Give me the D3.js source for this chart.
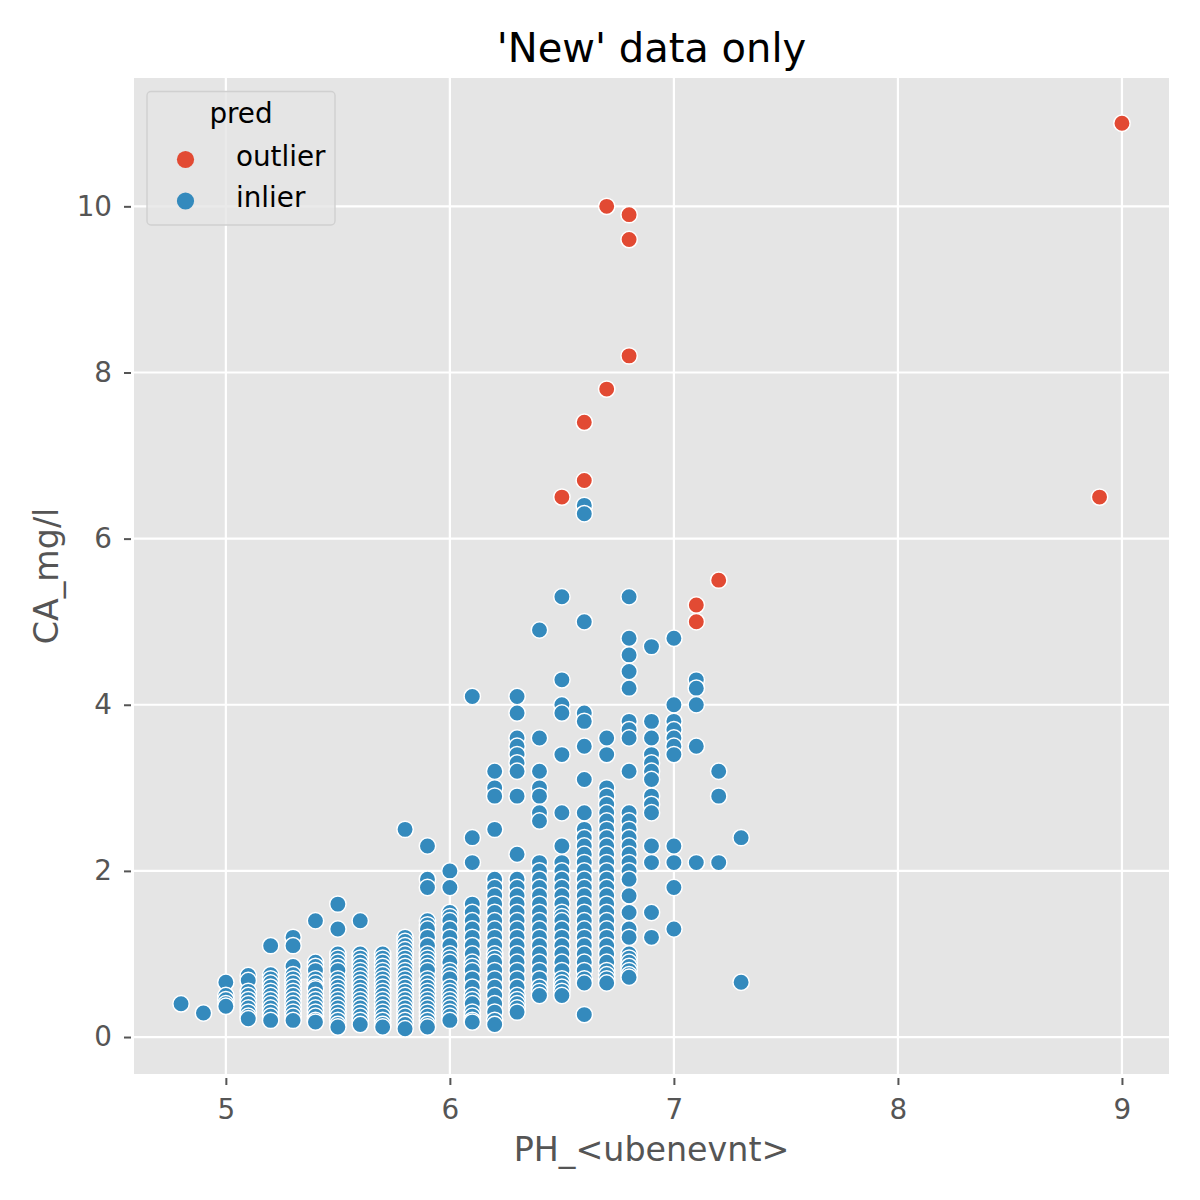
<!DOCTYPE html>
<html>
<head>
<meta charset="utf-8">
<script src="https://cdn.jsdelivr.net/npm/d3@7"></script>
<style>
  html, body { margin: 0; padding: 0; background: #ffffff; }
  svg { display: block; font-family: "DejaVu Sans", sans-serif; }
</style>
</head>
<body>
<svg id="chart" width="1200" height="1200"></svg>
<script>
// ---- data ----
const chartTitle = "'New' data only";
const xLabel = "PH_<ubenevnt>";
const yLabel = "CA_mg/l";
const legendTitle = "pred";
const seriesNames = ["outlier", "inlier"];
const seriesColors = ["#E24A33", "#348ABD"];
const xTicks = [5, 6, 7, 8, 9];
const yTicks = [0, 2, 4, 6, 8, 10];

const outlierPH = [9.0, 6.7, 6.8, 6.8, 6.8, 6.7, 6.6, 6.6, 6.5, 8.9, 7.2, 7.1, 7.1];
const outlierCA = [11.0, 10.0, 9.9, 9.6, 8.2, 7.8, 7.4, 6.7, 6.5, 6.5, 5.5, 5.2, 5.0];

const inlierPH = [4.8, 4.9, 5.0, 5.1, 5.2, 5.3, 5.4, 5.5, 5.6, 5.7, 5.8, 5.9, 6.0,
                  6.1, 6.2, 6.3, 6.4, 6.5, 6.6, 6.7, 6.8, 6.9, 7.0, 7.1, 7.2, 7.3];
const inlierCA = [
  [0.4],
  [0.29],
  [0.66, 0.5, 0.45, 0.4, 0.37],
  [0.74, 0.68, 0.55, 0.5, 0.45, 0.4, 0.35, 0.3, 0.25, 0.22],
  [1.1, 0.75, 0.7, 0.65, 0.6, 0.55, 0.5, 0.45, 0.4, 0.35, 0.3, 0.25, 0.2],
  [1.2, 1.1, 0.85, 0.75, 0.7, 0.65, 0.6, 0.55, 0.5, 0.45, 0.4, 0.35, 0.3, 0.25, 0.2],
  [1.4, 0.9, 0.85, 0.8, 0.7, 0.65, 0.6, 0.58, 0.5, 0.45, 0.4, 0.35, 0.3, 0.25, 0.2, 0.18],
  [1.6, 1.3, 1.0, 0.95, 0.9, 0.85, 0.8, 0.7, 0.65, 0.6, 0.55, 0.5, 0.45, 0.4, 0.35, 0.3, 0.25, 0.2, 0.15, 0.12],
  [1.4, 1.0, 0.95, 0.9, 0.85, 0.8, 0.75, 0.7, 0.65, 0.6, 0.55, 0.5, 0.45, 0.4, 0.35, 0.3, 0.25, 0.2, 0.15],
  [1.0, 0.95, 0.9, 0.85, 0.8, 0.75, 0.7, 0.65, 0.6, 0.55, 0.5, 0.45, 0.4, 0.35, 0.3, 0.25, 0.2, 0.15, 0.12],
  [2.5, 1.2, 1.15, 1.1, 1.05, 1.0, 0.95, 0.9, 0.85, 0.8, 0.75, 0.7, 0.65, 0.6, 0.55, 0.5, 0.45, 0.4, 0.35, 0.3, 0.25, 0.2, 0.15, 0.1],
  [2.3, 1.9, 1.8, 1.4, 1.35, 1.3, 1.2, 1.1, 1.0, 0.95, 0.9, 0.85, 0.8, 0.7, 0.65, 0.6, 0.55, 0.5, 0.45, 0.4, 0.35, 0.3, 0.25, 0.2, 0.15, 0.12],
  [2.0, 1.8, 1.5, 1.45, 1.4, 1.3, 1.2, 1.1, 1.0, 0.95, 0.9, 0.8, 0.75, 0.7, 0.6, 0.55, 0.5, 0.45, 0.4, 0.35, 0.3, 0.25, 0.2],
  [4.1, 2.4, 2.1, 1.6, 1.5, 1.4, 1.3, 1.2, 1.1, 1.0, 0.9, 0.85, 0.8, 0.7, 0.6, 0.5, 0.45, 0.4, 0.3, 0.25, 0.2, 0.18],
  [3.2, 3.0, 2.9, 2.5, 1.9, 1.8, 1.7, 1.6, 1.5, 1.4, 1.3, 1.2, 1.1, 1.0, 0.95, 0.9, 0.8, 0.7, 0.6, 0.5, 0.4, 0.3, 0.2, 0.15],
  [4.1, 3.9, 3.6, 3.5, 3.4, 3.3, 3.2, 2.9, 2.2, 1.9, 1.8, 1.7, 1.6, 1.5, 1.4, 1.3, 1.2, 1.1, 1.0, 0.9, 0.8, 0.7, 0.6, 0.5, 0.45, 0.4, 0.35, 0.3],
  [4.9, 3.6, 3.2, 3.0, 2.9, 2.7, 2.6, 2.1, 2.0, 1.9, 1.8, 1.7, 1.6, 1.5, 1.4, 1.3, 1.2, 1.1, 1.0, 0.9, 0.8, 0.7, 0.6, 0.55, 0.5],
  [5.3, 4.3, 4.0, 3.9, 3.4, 2.7, 2.3, 2.1, 2.0, 1.9, 1.8, 1.7, 1.6, 1.5, 1.45, 1.4, 1.3, 1.2, 1.1, 1.0, 0.9, 0.8, 0.7, 0.65, 0.6, 0.55, 0.5],
  [6.4, 6.3, 5.0, 3.9, 3.8, 3.5, 3.1, 2.7, 2.5, 2.4, 2.3, 2.2, 2.1, 2.0, 1.9, 1.8, 1.7, 1.6, 1.5, 1.4, 1.3, 1.2, 1.1, 1.0, 0.9, 0.8, 0.7, 0.65, 0.27],
  [3.6, 3.4, 3.0, 2.9, 2.8, 2.7, 2.6, 2.5, 2.4, 2.3, 2.2, 2.1, 2.0, 1.9, 1.8, 1.7, 1.6, 1.5, 1.4, 1.3, 1.2, 1.1, 1.0, 0.9, 0.8, 0.75, 0.7, 0.65],
  [5.3, 4.8, 4.6, 4.4, 4.2, 3.8, 3.7, 3.6, 3.2, 2.7, 2.6, 2.5, 2.4, 2.3, 2.2, 2.1, 2.0, 1.9, 1.7, 1.5, 1.3, 1.2, 1.0, 0.95, 0.9, 0.85, 0.8, 0.75, 0.72],
  [4.7, 3.8, 3.6, 3.4, 3.3, 3.2, 3.1, 2.9, 2.8, 2.7, 2.3, 2.1, 1.5, 1.2],
  [4.8, 4.0, 3.8, 3.7, 3.6, 3.5, 3.4, 2.3, 2.1, 1.8, 1.3],
  [4.3, 4.2, 4.0, 3.5, 2.1],
  [3.2, 2.9, 2.1],
  [2.4, 0.66]
];

// ---- build point table ----
const points = [];
inlierPH.forEach((ph, i) => inlierCA[i].forEach(ca => points.push({ph, ca, pred: "inlier"})));
outlierPH.forEach((ph, i) => points.push({ph, ca: outlierCA[i], pred: "outlier"}));

// ---- layout ----
const svg = d3.select("#chart");
const plot = {left: 134, right: 1169, top: 78, bottom: 1074};

const allX = points.map(d => d.ph), allY = points.map(d => d.ca);
const [xmin, xmax] = d3.extent(allX), [ymin, ymax] = d3.extent(allY);
const xpad = (xmax - xmin) * 0.05, ypad = (ymax - ymin) * 0.05;

const x = d3.scaleLinear().domain([xmin - xpad, xmax + xpad]).range([plot.left, plot.right]);
const y = d3.scaleLinear().domain([ymin - ypad, ymax + ypad]).range([plot.bottom, plot.top]);
const color = d3.scaleOrdinal().domain(seriesNames).range(seriesColors);

// background
svg.append("rect").attr("x", plot.left).attr("y", plot.top)
  .attr("width", plot.right - plot.left).attr("height", plot.bottom - plot.top)
  .attr("fill", "#E5E5E5");

// grid
const g = svg.append("g");
g.selectAll("line.gx").data(xTicks).join("line")
  .attr("x1", d => x(d)).attr("x2", d => x(d))
  .attr("y1", plot.top).attr("y2", plot.bottom)
  .attr("stroke", "#ffffff").attr("stroke-width", 2.2);
g.selectAll("line.gy").data(yTicks).join("line")
  .attr("y1", d => y(d)).attr("y2", d => y(d))
  .attr("x1", plot.left).attr("x2", plot.right)
  .attr("stroke", "#ffffff").attr("stroke-width", 2.2);

// axes
const xAxis = d3.axisBottom(x).tickValues(xTicks).tickSize(7).tickPadding(14).tickFormat(d3.format("d"));
const yAxis = d3.axisLeft(y).tickValues(yTicks).tickSize(7).tickPadding(12).tickFormat(d3.format("d"));

const gx = svg.append("g").attr("transform", `translate(0,${plot.bottom + 4})`).call(xAxis);
const gy = svg.append("g").attr("transform", `translate(${plot.left - 3},0)`).call(yAxis);
[gx, gy].forEach(a => {
  a.select(".domain").remove();
  a.selectAll(".tick line").attr("stroke", "#555555").attr("stroke-width", 2);
  a.selectAll(".tick text").attr("fill", "#555555")
    .style("font-family", "DejaVu Sans").style("font-size", "27.8px");
});

// points
svg.append("g").selectAll("circle").data(points).join("circle")
  .attr("cx", d => x(d.ph)).attr("cy", d => y(d.ca))
  .attr("r", 8.2)
  .attr("fill", d => color(d.pred))
  .attr("stroke", "#ffffff").attr("stroke-width", 1.5);

// title & labels
svg.append("text").attr("x", (plot.left + plot.right) / 2).attr("y", 62)
  .attr("text-anchor", "middle").attr("fill", "#000000")
  .style("font-size", "40px").text(chartTitle);
svg.append("text").attr("x", (plot.left + plot.right) / 2).attr("y", 1161)
  .attr("text-anchor", "middle").attr("fill", "#555555")
  .style("font-size", "33.3px").text(xLabel);
svg.append("text").attr("transform", `translate(58,${(plot.top + plot.bottom) / 2}) rotate(-90)`)
  .attr("text-anchor", "middle").attr("fill", "#555555")
  .style("font-size", "33.3px").text(yLabel);

// legend
const lg = svg.append("g");
lg.append("rect").attr("x", 147).attr("y", 91.5).attr("width", 188).attr("height", 133.5)
  .attr("rx", 4).attr("fill", "#E5E5E5").attr("fill-opacity", 0.8)
  .attr("stroke", "#d0d0d0").attr("stroke-width", 1.4);
lg.append("text").attr("x", 241).attr("y", 123).attr("text-anchor", "middle")
  .attr("fill", "#000000").style("font-size", "27.8px").text(legendTitle);
seriesNames.forEach((name, i) => {
  const cy = 159.5 + i * 41.5;
  lg.append("circle").attr("cx", 185.5).attr("cy", cy).attr("r", 8.6).attr("fill", color(name));
  lg.append("text").attr("x", 236).attr("y", cy + 6).attr("fill", "#000000")
    .style("font-size", "27.8px").text(name);
});
</script>
</body>
</html>
